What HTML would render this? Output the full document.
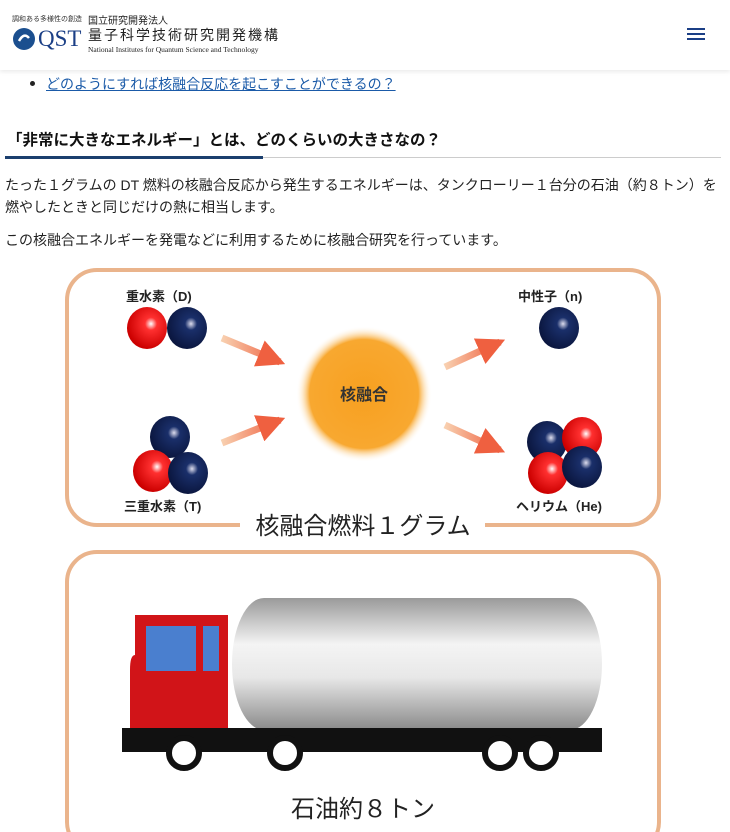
<!DOCTYPE html>
<html><head><meta charset="utf-8"><style>
body{margin:0;width:730px;height:832px;overflow:hidden;background:#fff;font-family:"Liberation Sans","Noto Sans CJK JP",sans-serif;position:relative}
.hdr{position:absolute;left:0;top:0;width:730px;height:70px;background:#fff;box-shadow:0 2px 4px rgba(0,0,0,.08)}
.t{position:absolute;white-space:nowrap}
</style></head><body>
<div class="hdr">
<div class="t" style="left:12px;top:14px;font-size:7px;color:#333">調和ある多様性の創造</div>
<div class="t" style="left:88px;top:12px;font-size:10px;color:#222">国立研究開発法人</div>
<svg class="t" style="left:12px;top:27px" width="24" height="24"><circle cx="12" cy="12" r="11" fill="#1b4f8f"/><path d="M7 14 q5 -9 10 -3" stroke="#fff" stroke-width="2.5" fill="none"/></svg>
<div class="t" style="left:38px;top:26px;font-size:23px;color:#1b3f86;font-family:'Liberation Serif',serif">QST</div>
<div class="t" style="left:88px;top:25px;font-size:14px;color:#222;letter-spacing:2px">量子科学技術研究開発機構</div>
<div class="t" style="left:88px;top:45px;font-size:7.5px;color:#222;font-family:'Liberation Serif',serif">National Institutes for Quantum Science and Technology</div>
<div style="position:absolute;left:687px;top:28px;width:18px;height:2px;background:#1b3f86;box-shadow:0 5px 0 #1b3f86,0 10px 0 #1b3f86"></div>
</div>
<div class="t" style="left:30px;top:81px;width:5px;height:5px;border-radius:50%;background:#222"></div>
<div class="t" style="left:46px;top:74px;font-size:14px;color:#1a5aa8;text-decoration:underline">どのようにすれば核融合反応を起こすことができるの？</div>
<div class="t" style="left:7px;top:128px;font-size:15.5px;font-weight:bold;color:#111">「非常に大きなエネルギー」とは、どのくらいの大きさなの？</div>
<div style="position:absolute;left:5px;top:157px;width:716px;height:1px;background:#ccc"></div>
<div style="position:absolute;left:5px;top:156px;width:258px;height:3px;background:#1b3f6e"></div>
<div class="t" style="left:5px;top:174px;font-size:14px;color:#222;line-height:22px">たった１グラムの DT 燃料の核融合反応から発生するエネルギーは、タンクローリー１台分の石油（約８トン）を<br>燃やしたときと同じだけの熱に相当します。</div>
<div class="t" style="left:5px;top:230px;font-size:14px;color:#222">この核融合エネルギーを発電などに利用するために核融合研究を行っています。</div>
<svg style="position:absolute;left:0;top:260px" width="730" height="572">
<defs>
<radialGradient id="r" cx=".6" cy=".4" r=".6"><stop offset="0" stop-color="#fff"/><stop offset=".25" stop-color="#ff3030"/><stop offset="1" stop-color="#c00"/></radialGradient>
<radialGradient id="b" cx=".6" cy=".4" r=".6"><stop offset="0" stop-color="#dde"/><stop offset=".25" stop-color="#1a2f6a"/><stop offset="1" stop-color="#0b1740"/></radialGradient>
<radialGradient id="o"><stop offset="0" stop-color="#f7a020"/><stop offset=".8" stop-color="#f8a830"/><stop offset="1" stop-color="#fff" stop-opacity="0"/></radialGradient>
<linearGradient id="ar"><stop offset="0" stop-color="#f8d0b0"/><stop offset="1" stop-color="#ef6040"/></linearGradient>
<linearGradient id="tk" x1="0" y1="0" x2="0" y2="1"><stop offset="0" stop-color="#9a9a9a"/><stop offset=".35" stop-color="#f4f4f4"/><stop offset=".6" stop-color="#e8e8e8"/><stop offset="1" stop-color="#8a8a8a"/></linearGradient>
<marker id="m" viewBox="0 0 10 10" refX="8" refY="5" markerWidth="4" markerHeight="4" orient="auto"><path d="M0 0L10 5L0 10z" fill="#ef6040"/></marker>
</defs>
<rect x="67" y="10" width="592" height="255" rx="30" fill="none" stroke="#eab48c" stroke-width="4"/>
<rect x="240" y="250" width="245" height="30" fill="#fff"/>
<text x="363" y="274" font-size="24" text-anchor="middle" fill="#222">核融合燃料１グラム</text>
<g font-size="13" fill="#222" font-weight="bold">
<text x="126" y="41">重水素（D)</text><text x="518" y="41">中性子（n)</text>
<text x="124" y="251">三重水素（T)</text><text x="516" y="251">ヘリウム（He)</text></g>
<ellipse cx="147" cy="68" rx="20" ry="21" fill="url(#r)"/><ellipse cx="187" cy="68" rx="20" ry="21" fill="url(#b)"/>
<ellipse cx="559" cy="68" rx="20" ry="21" fill="url(#b)"/>
<ellipse cx="170" cy="177" rx="20" ry="21" fill="url(#b)"/><ellipse cx="153" cy="211" rx="20" ry="21" fill="url(#r)"/><ellipse cx="188" cy="213" rx="20" ry="21" fill="url(#b)"/>
<ellipse cx="547" cy="182" rx="20" ry="21" fill="url(#b)"/><ellipse cx="582" cy="178" rx="20" ry="21" fill="url(#r)"/><ellipse cx="548" cy="213" rx="20" ry="21" fill="url(#r)"/><ellipse cx="582" cy="207" rx="20" ry="21" fill="url(#b)"/>
<circle cx="364" cy="134" r="68" fill="url(#o)"/>
<text x="364" y="140" font-size="16" text-anchor="middle" fill="#333" font-weight="bold">核融合</text>
<g stroke="url(#ar)" stroke-width="7" marker-end="url(#m)" fill="none">
<line x1="222" y1="78" x2="280" y2="102"/><line x1="222" y1="183" x2="280" y2="160"/>
<line x1="445" y1="107" x2="500" y2="82"/><line x1="445" y1="165" x2="500" y2="190"/></g>
<rect x="67" y="292" width="592" height="300" rx="30" fill="none" stroke="#eab48c" stroke-width="4"/>
<rect x="278" y="528" width="170" height="44" fill="#fff"/>
<text x="363" y="557" font-size="24" text-anchor="middle" fill="#222">石油約８トン</text>
<rect x="232" y="338" width="370" height="132" rx="32" ry="66" fill="url(#tk)"/>
<path d="M135 355 H228 V470 H130 V410 Q130 395 135 395Z" fill="#d11418"/>
<rect x="146" y="366" width="50" height="45" fill="#4a7fcf"/><rect x="203" y="366" width="16" height="45" fill="#4a7fcf"/>
<rect x="122" y="468" width="480" height="24" fill="#111"/>
<g fill="#fff" stroke="#111" stroke-width="6"><circle cx="184" cy="493" r="15"/><circle cx="285" cy="493" r="15"/><circle cx="500" cy="493" r="15"/><circle cx="541" cy="493" r="15"/></g>
</svg>
</body></html>
